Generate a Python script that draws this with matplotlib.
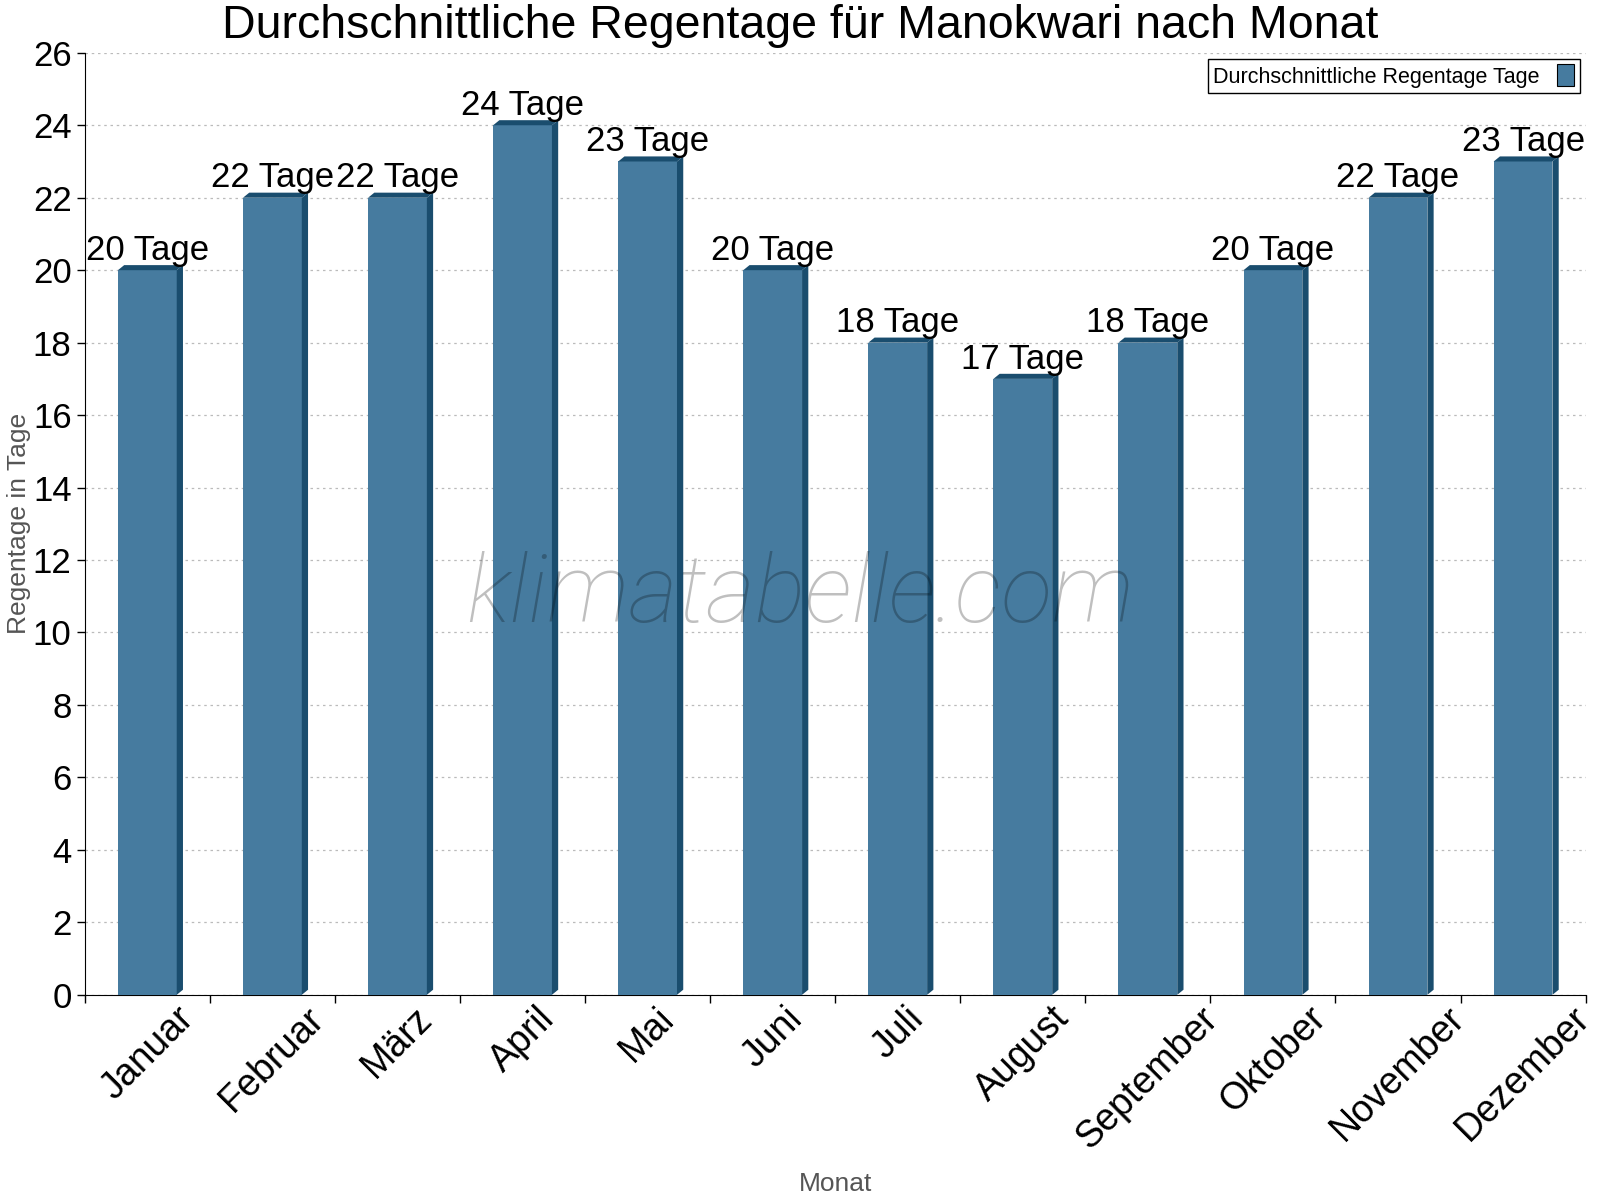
import numpy as np
import matplotlib
matplotlib.use('Agg')
import matplotlib.pyplot as plt
from matplotlib.patches import Polygon

plt.rcParams['font.family'] = ['Liberation Sans', 'DejaVu Sans']

months = ['Januar', 'Februar', 'März', 'April', 'Mai', 'Juni', 'Juli',
          'August', 'September', 'Oktober', 'November', 'Dezember']
rain_days = [20, 22, 22, 24, 23, 20, 18, 17, 18, 20, 22, 23]
series_name = 'Durchschnittliche Regentage Tage'

front = '#467b9f'
dark = '#1a4d6e'

fig = plt.figure(figsize=(16, 12), dpi=100)
ax = fig.add_axes([0.053, 0.171, 0.938, 0.785])

x = np.arange(len(months))
bw = 0.47
dx = 0.05   # depth in x (data units)
dy = 0.14   # depth in y (data units)

bars = ax.bar(x, rain_days, width=bw, color=front, zorder=3, label=series_name)
for xi, v in zip(x, rain_days):
    l = xi - bw / 2
    r = xi + bw / 2
    top = Polygon([(l, v), (l + dx, v + dy), (r + dx, v + dy), (r, v)],
                  closed=True, facecolor=dark, edgecolor='none', zorder=3)
    side = Polygon([(r, v), (r + dx, v + dy), (r + dx, dy), (r, 0)],
                   closed=True, facecolor=dark, edgecolor='none', zorder=3)
    ax.add_patch(top)
    ax.add_patch(side)
    ax.text(xi, v + dy - 0.05, f'{v} Tage', ha='center', va='bottom',
            fontsize=25, zorder=5)

ax.set_xlim(-0.5, len(months) - 0.5)
ax.set_ylim(0, 26)
ax.set_yticks(range(0, 27, 2))
ax.tick_params(axis='y', labelsize=25, length=6, width=1)
ax.set_xticks(x)
ax.set_xticklabels(months, rotation=45, fontsize=27)
ax.tick_params(axis='x', which='major', length=0, pad=4)
ax.set_xticks(np.arange(-0.5, len(months), 1), minor=True)
ax.tick_params(axis='x', which='minor', length=6, width=1)

ax.grid(axis='y', linestyle=(0, (2, 3)), color='#bbbbbb', linewidth=0.9, zorder=0)
ax.spines['top'].set_visible(False)
ax.spines['right'].set_visible(False)

ax.set_xlabel('Monat', fontsize=19, color='#555555')
ax.xaxis.set_label_coords(0.5, -0.188)
ax.set_ylabel('Regentage in Tage', fontsize=19, color='#555555')
ax.yaxis.set_label_coords(-0.036, 0.5)
fig.text(0.5, 0.9785, 'Durchschnittliche Regentage für Manokwari nach Monat',
         ha='center', va='center', fontsize=33.5)

leg = ax.legend(loc='upper right', fontsize=15.5, markerfirst=False,
                handlelength=0.8, handleheight=1.2, fancybox=False,
                framealpha=1, edgecolor='black', borderaxespad=0,
                borderpad=0.25, bbox_to_anchor=(0.996, 0.9936))
leg.get_frame().set_linewidth(1.0)
for h in leg.legend_handles:
    h.set_edgecolor('black')
    h.set_linewidth(0.8)

fig.text(0.5, 0.503, 'klimatabelle.com', ha='center', va='center',
         fontsize=68, family='Roboto', weight='light', style='italic',
         color='black', alpha=0.25, zorder=10)

fig.savefig('out.png', dpi=100)
